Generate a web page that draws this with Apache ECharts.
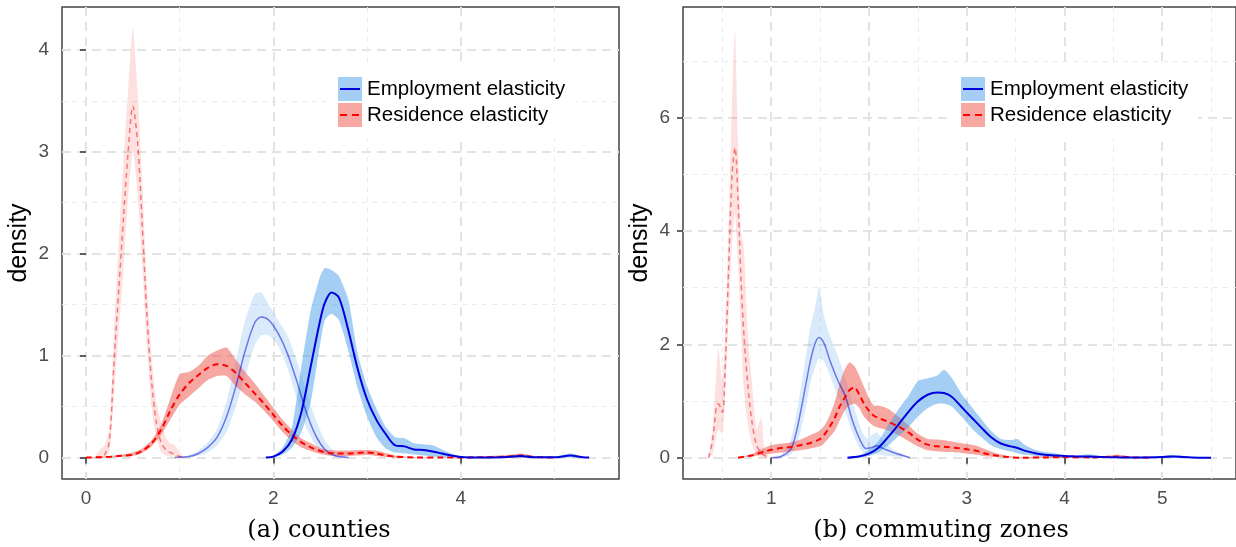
<!DOCTYPE html>
<html>
<head>
<meta charset="utf-8">
<title>Elasticity densities</title>
<script src="https://cdn.jsdelivr.net/npm/echarts@6/dist/echarts.min.js"></script>
<style>
  html, body { margin: 0; padding: 0; background: #fff; }
  #chart { width: 1236px; height: 547px; }
</style>
</head>
<body>
<div id="chart"></div>
<script>
// tick values
const countiesXTicks = [0, 2, 4];
const countiesXMinor = [1, 3, 5];
const countiesYTicks = [0, 1, 2, 3, 4];
const countiesYMinor = [0.5, 1.5, 2.5, 3.5];
const zonesXTicks = [1, 2, 3, 4, 5];
const zonesXMinor = [0.5, 1.5, 2.5, 3.5, 4.5, 5.5];
const zonesYTicks = [0, 2, 4, 6];
const zonesYMinor = [1, 3, 5, 7];

const legendNames = ["Employment elasticity", "Residence elasticity"];
const captions = ["(a) counties", "(b) commuting zones"];

// (a) counties - faded residence
const cResFadedX = [0.1, 0.15, 0.2, 0.25, 0.3, 0.35, 0.4, 0.45, 0.5, 0.55, 0.6, 0.65, 0.7, 0.75, 0.8, 0.85, 0.9, 0.95, 1.0, 1.05];
const cResFadedMid = [0, 0.01, 0.03, 0.16, 0.95, 1.65, 2.35, 3.0, 3.45, 3.1, 2.3, 1.4, 0.75, 0.35, 0.15, 0.08, 0.05, 0.03, 0.01, 0];
const cResFadedLo = [0, 0, 0, 0.06, 0.62, 1.25, 1.85, 2.55, 3.0, 2.6, 1.9, 1.1, 0.5, 0.2, 0.06, 0.02, 0.01, 0, 0, 0];
const cResFadedHi = [0.02, 0.08, 0.12, 0.3, 1.25, 2.1, 2.9, 3.6, 4.22, 3.6, 2.7, 1.7, 1.0, 0.55, 0.35, 0.2, 0.14, 0.12, 0.05, 0];

// (a) counties - residence
const cResX = [0, 0.2, 0.35, 0.5, 0.6, 0.7, 0.8, 0.9, 1.0, 1.1, 1.2, 1.3, 1.4, 1.5, 1.6, 1.7, 1.8, 1.9, 2.0, 2.1, 2.2, 2.3, 2.4, 2.5, 2.6, 2.7, 2.8, 2.9, 3.0, 3.1, 3.2, 3.3, 3.5, 3.8, 4.2, 4.5, 4.65, 4.8, 5.0];
const cResMid = [0, 0.005, 0.015, 0.03, 0.065, 0.14, 0.27, 0.46, 0.62, 0.73, 0.81, 0.88, 0.915, 0.9, 0.83, 0.73, 0.63, 0.53, 0.42, 0.31, 0.22, 0.15, 0.1, 0.065, 0.045, 0.04, 0.04, 0.045, 0.05, 0.04, 0.02, 0.01, 0.002, 0, 0.003, 0.01, 0.02, 0.005, 0];
const cResLo = [0, 0, 0.005, 0.015, 0.045, 0.11, 0.22, 0.37, 0.52, 0.6, 0.68, 0.76, 0.8, 0.8, 0.7, 0.62, 0.55, 0.46, 0.36, 0.25, 0.16, 0.1, 0.065, 0.035, 0.02, 0.015, 0.015, 0.02, 0.025, 0.015, 0.005, 0, 0, 0, 0, 0, 0, 0, 0];
const cResHi = [0, 0.01, 0.025, 0.05, 0.09, 0.17, 0.32, 0.58, 0.82, 0.84, 0.9, 1.0, 1.05, 1.08, 0.96, 0.84, 0.73, 0.61, 0.49, 0.37, 0.27, 0.19, 0.14, 0.095, 0.075, 0.07, 0.07, 0.075, 0.075, 0.07, 0.045, 0.02, 0.005, 0, 0.01, 0.025, 0.04, 0.01, 0];

// (a) counties - faded employment
const cEmpFadedX = [0.95, 1.1, 1.2, 1.3, 1.4, 1.5, 1.6, 1.7, 1.8, 1.87, 1.95, 2.05, 2.15, 2.25, 2.35, 2.45, 2.55, 2.65, 2.8];
const cEmpFadedMid = [0, 0.01, 0.04, 0.1, 0.2, 0.4, 0.7, 1.05, 1.32, 1.38, 1.35, 1.22, 1.02, 0.75, 0.45, 0.22, 0.08, 0.02, 0];
const cEmpFadedLo = [0, 0, 0.02, 0.05, 0.12, 0.25, 0.5, 0.8, 1.1, 1.2, 1.2, 1.1, 0.88, 0.58, 0.3, 0.12, 0.03, 0.01, 0];
const cEmpFadedHi = [0, 0.02, 0.07, 0.15, 0.28, 0.55, 0.95, 1.35, 1.6, 1.62, 1.5, 1.35, 1.2, 0.95, 0.65, 0.38, 0.17, 0.06, 0];

// (a) counties - employment
const cEmpX = [1.92, 2.0, 2.1, 2.2, 2.3, 2.4, 2.5, 2.55, 2.62, 2.7, 2.8, 2.9, 3.0, 3.1, 3.2, 3.3, 3.4, 3.5, 3.6, 3.7, 3.8, 3.9, 4.0, 4.2, 4.5, 4.63, 4.8, 5.0, 5.17, 5.3, 5.37];
const cEmpMid = [0, 0.01, 0.06, 0.18, 0.45, 0.9, 1.35, 1.52, 1.62, 1.57, 1.25, 0.87, 0.57, 0.37, 0.23, 0.12, 0.11, 0.08, 0.075, 0.06, 0.04, 0.02, 0.005, 0, 0.005, 0.015, 0.003, 0.003, 0.02, 0.003, 0];
const cEmpLo = [0, 0, 0.03, 0.1, 0.25, 0.55, 1.12, 1.35, 1.41, 1.35, 1.05, 0.68, 0.4, 0.2, 0.09, 0.05, 0.04, 0.03, 0.02, 0.01, 0, 0, 0, 0, 0, 0, 0, 0, 0, 0, 0];
const cEmpHi = [0, 0.02, 0.1, 0.3, 0.9, 1.45, 1.78, 1.86, 1.84, 1.78, 1.55, 1.02, 0.7, 0.48, 0.3, 0.2, 0.19, 0.14, 0.13, 0.12, 0.08, 0.04, 0.01, 0, 0.01, 0.03, 0.01, 0.01, 0.04, 0.01, 0];

// (b) commuting zones - faded residence
const zResFadedX = [0.36, 0.4, 0.44, 0.46, 0.5, 0.53, 0.56, 0.6, 0.63, 0.66, 0.69, 0.72, 0.76, 0.8, 0.85, 0.9, 0.93, 0.98];
const zResFadedMid = [0, 0.3, 0.9, 0.95, 0.8, 1.6, 3.1, 5.0, 5.47, 4.6, 3.2, 2.2, 1.3, 0.67, 0.22, 0.08, 0.04, 0];
const zResFadedLo = [0, 0.05, 0.4, 0.5, 0.42, 1.0, 2.3, 3.8, 4.3, 3.5, 2.3, 1.2, 0.6, 0.25, 0.05, 0, 0, 0];
const zResFadedHi = [0.02, 0.5, 1.5, 1.95, 1.35, 2.3, 3.8, 6.3, 7.55, 5.6, 4.0, 3.7, 2.2, 1.4, 0.5, 0.7, 0.15, 0];

// (b) commuting zones - residence
const zResX = [0.66, 0.8, 0.9, 1.0, 1.1, 1.2, 1.3, 1.4, 1.5, 1.55, 1.6, 1.65, 1.7, 1.75, 1.8, 1.85, 1.9, 1.95, 2.0, 2.05, 2.1, 2.2, 2.3, 2.4, 2.5, 2.6, 2.7, 2.8, 2.9, 3.0, 3.1, 3.2, 3.3, 3.4, 3.55, 3.8, 4.0, 4.3, 4.55, 4.7, 4.86];
const zResMid = [0, 0.04, 0.09, 0.14, 0.17, 0.19, 0.22, 0.26, 0.33, 0.42, 0.55, 0.7, 0.9, 1.05, 1.19, 1.24, 1.12, 0.95, 0.83, 0.74, 0.7, 0.63, 0.55, 0.45, 0.32, 0.23, 0.2, 0.19, 0.17, 0.15, 0.12, 0.07, 0.04, 0.015, 0, 0.005, 0.01, 0.005, 0.02, 0.005, 0];
const zResLo = [0, 0.02, 0.05, 0.07, 0.09, 0.11, 0.13, 0.16, 0.2, 0.27, 0.37, 0.47, 0.65, 0.82, 0.92, 0.95, 0.88, 0.72, 0.63, 0.56, 0.53, 0.48, 0.4, 0.3, 0.2, 0.13, 0.11, 0.1, 0.09, 0.07, 0.05, 0.02, 0.01, 0, 0, 0, 0, 0, 0, 0, 0];
const zResHi = [0, 0.06, 0.15, 0.22, 0.25, 0.27, 0.32, 0.4, 0.48, 0.58, 0.75, 0.98, 1.3, 1.55, 1.68, 1.62, 1.45, 1.25, 1.05, 0.92, 0.92, 0.86, 0.73, 0.58, 0.42, 0.33, 0.32, 0.3, 0.27, 0.24, 0.21, 0.14, 0.08, 0.04, 0.01, 0.02, 0.02, 0.01, 0.05, 0.01, 0];

// (b) commuting zones - faded employment
const zEmpFadedX = [1.0, 1.1, 1.2, 1.25, 1.3, 1.35, 1.4, 1.45, 1.49, 1.54, 1.6, 1.68, 1.76, 1.83, 1.91, 1.97, 2.03, 2.08, 2.15, 2.25, 2.42];
const zEmpFadedMid = [0, 0.02, 0.15, 0.4, 0.8, 1.25, 1.7, 2.02, 2.12, 2.02, 1.72, 1.37, 1.08, 0.66, 0.31, 0.16, 0.18, 0.21, 0.16, 0.09, 0];
const zEmpFadedLo = [0, 0, 0.05, 0.2, 0.45, 0.85, 1.3, 1.6, 1.75, 1.7, 1.45, 1.1, 0.8, 0.45, 0.15, 0.06, 0.06, 0.06, 0.04, 0.02, 0];
const zEmpFadedHi = [0, 0.04, 0.32, 0.7, 1.2, 1.75, 2.3, 2.65, 3.0, 2.5, 2.15, 1.8, 1.4, 1.0, 0.55, 0.35, 0.4, 0.45, 0.3, 0.14, 0];

// (b) commuting zones - employment
const zEmpX = [1.78, 1.9, 2.0, 2.1, 2.2, 2.3, 2.4, 2.5, 2.6, 2.7, 2.77, 2.85, 2.95, 3.05, 3.15, 3.25, 3.35, 3.45, 3.52, 3.6, 3.7, 3.8, 3.9, 4.0, 4.1, 4.25, 4.4, 4.6, 4.8, 5.0, 5.1, 5.3, 5.5];
const zEmpMid = [0, 0.02, 0.07, 0.18, 0.37, 0.58, 0.8, 0.99, 1.11, 1.15, 1.14, 1.07, 0.89, 0.71, 0.53, 0.36, 0.25, 0.2, 0.17, 0.12, 0.08, 0.05, 0.04, 0.03, 0.025, 0.02, 0.01, 0.005, 0.003, 0.01, 0.02, 0.005, 0];
const zEmpLo = [0, 0, 0.03, 0.1, 0.22, 0.38, 0.53, 0.72, 0.87, 0.95, 0.95, 0.9, 0.72, 0.52, 0.36, 0.22, 0.15, 0.11, 0.08, 0.05, 0.03, 0.015, 0.005, 0, 0, 0, 0, 0, 0, 0, 0, 0, 0];
const zEmpHi = [0, 0.04, 0.13, 0.3, 0.58, 0.85, 1.08, 1.35, 1.4, 1.45, 1.55, 1.4, 1.12, 0.9, 0.68, 0.47, 0.33, 0.31, 0.33, 0.22, 0.14, 0.1, 0.08, 0.04, 0.03, 0.06, 0.02, 0.01, 0.01, 0.03, 0.05, 0.01, 0];

const SANS = "Liberation Sans, Arial, Helvetica, sans-serif";
const BLUE = "#0000dd";
const RED = "#ff0000";

window.densityChart = echarts.init(document.getElementById("chart"));

// shaded ribbon between lo and hi
function band(name, axis, xs, lo, hi, fill) {
  return {
    type: "custom",
    name: name,
    xAxisIndex: axis,
    yAxisIndex: axis,
    silent: true,
    z: 1,
    data: xs.map((x, i) => [x, lo[i], hi[i]]),
    encode: { x: 0, y: [1, 2] },
    renderItem: function (params, api) {
      if (params.dataIndex !== 0) return;
      const top = xs.map((x, i) => api.coord([x, hi[i]]));
      const bottom = xs.map((x, i) => api.coord([x, lo[i]])).reverse();
      return {
        type: "polygon",
        shape: { points: top.concat(bottom), smooth: 0.2 },
        style: { fill: fill },
      };
    },
  };
}

function line(name, axis, xs, ys, color, width, dash) {
  return {
    type: "line",
    name: name,
    xAxisIndex: axis,
    yAxisIndex: axis,
    silent: true,
    z: 3,
    data: xs.map((x, i) => [x, ys[i]]),
    smooth: 0.3,
    symbol: "none",
    color: color,
    lineStyle: { color: color, width: width, type: dash ? dash : "solid" },
  };
}

function majorX(grid, min, max, ticks) {
  return {
    type: "value", gridIndex: grid, min: min, max: max,
    axisLine: { show: false },
    axisTick: { show: true, length: 6, customValues: ticks, lineStyle: { color: "#333", width: 1.5 } },
    axisLabel: { customValues: ticks, color: "#4d4d4d", fontSize: 19, fontFamily: SANS, margin: 10 },
    splitLine: { show: true, lineStyle: { color: "#e3e3e3", width: 2, type: [9, 6] } },
  };
}

function minorX(grid, min, max, ticks) {
  return {
    type: "value", gridIndex: grid, min: min, max: max, position: "top",
    axisLine: { show: false },
    axisTick: { show: false, customValues: ticks },
    axisLabel: { show: false },
    splitLine: { show: true, lineStyle: { color: "#ebebeb", width: 1, type: [5, 5] } },
  };
}

function majorY(grid, min, max, ticks) {
  const ax = majorX(grid, min, max, ticks);
  ax.axisLabel.margin = 13;
  ax.name = "density";
  ax.nameLocation = "middle";
  ax.nameGap = 30;
  ax.nameTextStyle = { fontSize: 25, color: "#000", fontFamily: SANS };
  return ax;
}

function minorY(grid, min, max, ticks) {
  const ax = minorX(grid, min, max, ticks);
  ax.position = "right";
  return ax;
}

// key icons: thin slivers at top and bottom keep the icon box at 20x24
const solidKey = "path://M0,0h20v0.01h-20z M0,11h20v2h-20z M0,23.99h20v0.01h-20z";
const dashedKey = "path://M0,0h20v0.01h-20z M0,11h7v2h-7z M12,11h7v2h-7z M0,23.99h20v0.01h-20z";

function legends(left) {
  return [
    {
      left: left - 10, top: 64,
      orient: "vertical",
      backgroundColor: "#fff",
      padding: [13, 10, 12, 10],
      itemWidth: 24, itemHeight: 24, itemGap: 2,
      selectedMode: false,
      icon: "rect",
      textStyle: { fontSize: 20.5, color: "#000", fontFamily: SANS },
      data: [
        { name: legendNames[0], itemStyle: { color: "#a4cef4" } },
        { name: legendNames[1], itemStyle: { color: "#f8a8a3" } },
      ],
    },
    {
      left: left + 2, top: 77, z: 5,
      orient: "vertical",
      padding: 0,
      itemWidth: 20, itemHeight: 24, itemGap: 2,
      selectedMode: false,
      formatter: function () { return ""; },
      data: [
        { name: legendNames[0] + " line", icon: solidKey, itemStyle: { color: BLUE } },
        { name: legendNames[1] + " line", icon: dashedKey, itemStyle: { color: RED } },
      ],
    },
  ];
}

function getOptions() {
  return {
    animation: false,
    backgroundColor: "#fff",
    title: [
      { text: captions[0], left: 319, top: 519, textAlign: "center", padding: 0,
        textStyle: { fontSize: 24, fontWeight: "normal", color: "#000", fontFamily: "DejaVu Serif, serif" } },
      { text: captions[1], left: 941, top: 519, textAlign: "center", padding: 0,
        textStyle: { fontSize: 24, fontWeight: "normal", color: "#000", fontFamily: "DejaVu Serif, serif" } },
    ],
    grid: [
      { left: 62, top: 7, width: 557, height: 472, show: true, borderColor: "#444", borderWidth: 1.5, backgroundColor: "transparent" },
      { left: 683, top: 7, width: 555, height: 472, show: true, borderColor: "#444", borderWidth: 1.5, backgroundColor: "transparent" },
    ],
    xAxis: [
      majorX(0, -0.256, 5.689, countiesXTicks),
      minorX(0, -0.256, 5.689, countiesXMinor),
      majorX(1, 0.098, 5.755, zonesXTicks),
      minorX(1, 0.098, 5.755, zonesXMinor),
    ],
    yAxis: [
      majorY(0, -0.21, 4.42, countiesYTicks),
      minorY(0, -0.21, 4.42, countiesYMinor),
      majorY(1, -0.376, 7.95, zonesYTicks),
      minorY(1, -0.376, 7.95, zonesYMinor),
    ],
    legend: legends(338).concat(legends(961)),
    series: [
      // counties
      band("Residence faded", 0, cResFadedX, cResFadedLo, cResFadedHi, "rgba(240,80,70,0.17)"),
      band("Employment faded", 0, cEmpFadedX, cEmpFadedLo, cEmpFadedHi, "rgba(66,153,232,0.2)"),
      band(legendNames[1], 0, cResX, cResLo, cResHi, "rgba(240,80,70,0.5)"),
      band(legendNames[0], 0, cEmpX, cEmpLo, cEmpHi, "rgba(66,153,232,0.48)"),
      line("Residence faded line", 0, cResFadedX, cResFadedMid, "rgba(240,0,0,0.47)", 1.5, [5, 4]),
      line("Employment faded line", 0, cEmpFadedX, cEmpFadedMid, "rgba(0,0,220,0.5)", 1.5),
      line(legendNames[1] + " line", 0, cResX, cResMid, RED, 2, [6, 4]),
      line(legendNames[0] + " line", 0, cEmpX, cEmpMid, BLUE, 2),
      // commuting zones
      band("Residence faded", 2, zResFadedX, zResFadedLo, zResFadedHi, "rgba(240,80,70,0.17)"),
      band("Employment faded", 2, zEmpFadedX, zEmpFadedLo, zEmpFadedHi, "rgba(66,153,232,0.2)"),
      band(legendNames[1], 2, zResX, zResLo, zResHi, "rgba(240,80,70,0.5)"),
      band(legendNames[0], 2, zEmpX, zEmpLo, zEmpHi, "rgba(66,153,232,0.48)"),
      line("Residence faded line", 2, zResFadedX, zResFadedMid, "rgba(240,0,0,0.47)", 1.5, [5, 4]),
      line("Employment faded line", 2, zEmpFadedX, zEmpFadedMid, "rgba(0,0,220,0.5)", 1.5),
      line(legendNames[1] + " line", 2, zResX, zResMid, RED, 2, [6, 4]),
      line(legendNames[0] + " line", 2, zEmpX, zEmpMid, BLUE, 2),
    ],
  };
}

window.densityChart.setOption(getOptions());

window.addEventListener("resize", (e) => {
  window.densityChart.resize();
});
</script>
</body>
</html>
